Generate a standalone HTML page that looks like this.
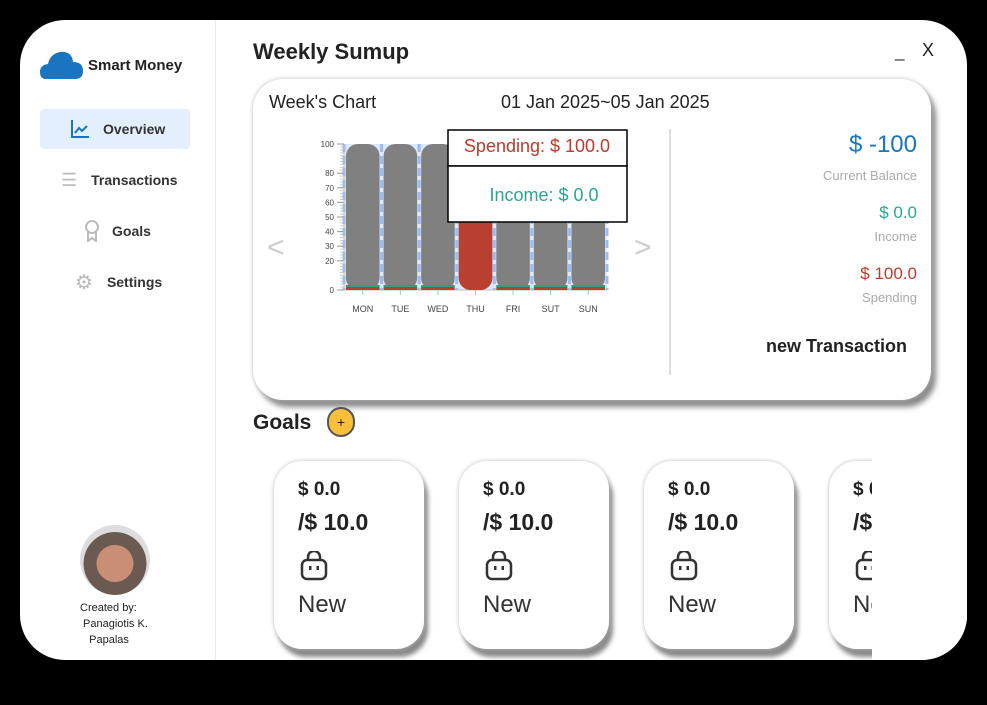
<!DOCTYPE html>
<html><head><meta charset="utf-8">
<style>
*{box-sizing:border-box;margin:0;padding:0}
body{width:987px;height:705px;background:#000;position:relative;overflow:hidden;font-family:"Liberation Sans",sans-serif;color:#222}
.win{position:absolute;left:20px;top:20px;width:947px;height:640px;background:#fff;border-radius:45px;overflow:hidden}
.abs{position:absolute}
.side{position:absolute;left:0;top:0;width:196px;height:640px;border-right:1px solid #e8e8e8}
.nav{position:absolute;left:20px;width:150px;height:40px;border-radius:4px;font-size:14px;font-weight:bold;color:#333;display:flex;align-items:center}
.card{position:absolute;background:#fff;border-radius:30px;box-shadow:0 0 4px #bbb,5px 7px 6px #888}
.goal{position:absolute;top:441px;width:150px;height:188px;background:#fff;border-radius:28px;box-shadow:0 0 4px #bbb,4px 8px 5px #888}
.goal .a{position:absolute;left:24px;top:18px;font-size:19px;font-weight:bold}
.goal .b{position:absolute;left:24px;top:48px;font-size:23px;font-weight:bold}
.goal .n{position:absolute;left:24px;top:130px;font-size:24px;color:#333}
.goal svg{position:absolute;left:26px;top:90px}
.r{position:absolute;right:14px;text-align:right}
</style></head><body>
<div class="win">
 <div class="side">
  <svg class="abs" style="left:20px;top:30px" width="44" height="30"><path d="M6 29 Q0 29 0 22 Q0 15 8 14 Q10 4 20 2 Q32 1 33 12 Q43 12 43 21 Q43 29 35 29 Z" fill="#1a74c0"/></svg>
  <div class="abs" style="left:68px;top:37px;font-size:15px;font-weight:bold">Smart Money</div>
  <div class="nav" style="top:89px;background:#e3effc"><svg style="margin-left:30px" width="20" height="20"><path d="M2 1V18H19" stroke="#1a74c0" stroke-width="2" fill="none"/><path d="M5 14L9 9L12 12L17 7" stroke="#1a74c0" stroke-width="2" fill="none"/></svg><span style="margin-left:13px">Overview</span></div>
  <div class="nav" style="top:140px"><span style="margin-left:21px;color:#bbb;font-size:18px;font-weight:normal">☰</span><span style="margin-left:14px">Transactions</span></div>
  <div class="nav" style="top:191px"><svg style="margin-left:44px" width="16" height="22"><circle cx="8" cy="7" r="6" stroke="#bbb" stroke-width="2" fill="none"/><path d="M4 12V21L8 18L12 21V12" stroke="#bbb" stroke-width="2" fill="none"/></svg><span style="margin-left:12px">Goals</span></div>
  <div class="nav" style="top:242px"><span style="margin-left:35px;color:#bbb;font-size:20px;font-weight:normal">⚙</span><span style="margin-left:14px">Settings</span></div>
  <div class="abs" style="left:60px;top:505px;width:70px;height:70px;border-radius:50%;background:radial-gradient(circle at 50% 55%,#c98f74 0 35%,#6a5a52 36% 60%,#ddd 61%)"></div>
  <div class="abs" style="left:60px;top:580px;font-size:11px;line-height:16px">Created by:<br>&nbsp;Panagiotis K.<br>&nbsp;&nbsp;&nbsp;Papalas</div>
 </div>
 <div class="abs" style="left:233px;top:19px;font-size:22px;font-weight:bold">Weekly Sumup</div>
 <div class="abs" style="left:875px;top:22px;font-size:17px">_</div>
 <div class="abs" style="left:902px;top:20px;font-size:18px">X</div>
 <div class="card" style="left:233px;top:59px;width:678px;height:321px">
  <div class="abs" style="left:16px;top:13px;font-size:18px">Week's Chart</div>
  <div class="abs" style="left:248px;top:13px;font-size:18px">01 Jan 2025~05 Jan 2025</div>
  <div class="abs" style="left:14px;top:152px;font-size:30px;color:#ccc">&lt;</div>
  <div class="abs" style="left:381px;top:152px;font-size:30px;color:#ccc">&gt;</div>
  <div class="abs" style="left:416px;top:50px;width:2px;height:246px;background:#ddd"></div>
  <div class="r" style="top:52px;font-size:24px;color:#1a74c0">$ -100</div>
  <div class="r" style="top:89px;font-size:13px;color:#aaa">Current Balance</div>
  <div class="r" style="top:124px;font-size:17px;color:#2aa592">$ 0.0</div>
  <div class="r" style="top:150px;font-size:13px;color:#aaa">Income</div>
  <div class="r" style="top:185px;font-size:17px;color:#c0392b">$ 100.0</div>
  <div class="r" style="top:211px;font-size:13px;color:#aaa">Spending</div>
  <div class="abs" style="right:24px;top:257px;font-size:18px;font-weight:bold">new Transaction</div>
 </div>
 <svg id="chart" class="abs" style="left:0;top:0" width="947" height="640"></svg>
 <div class="abs" style="left:233px;top:391px;font-size:21px;font-weight:bold">Goals</div>
 <div class="abs" style="left:307px;top:387px;width:28px;height:30px;border-radius:14px;background:#fbbf3c;border:2px solid #555;text-align:center;font-size:14px;line-height:26px">+</div>
 <div id="clip" class="abs" style="left:852px;top:430px;width:95px;height:210px;background:#fff;z-index:2"></div>
</div>
<script>
const days=["MON","TUE","WED","THU","FRI","SUT","SUN"];
const spending=[0,0,0,100,0,0,0];
const income=[0,0,0,0,0,0,0];
const yTicks=[0,20,30,40,50,60,70,80,100];
const NS="http://www.w3.org/2000/svg";
const svg=document.getElementById('chart');
const x0=324,x1=587,yb=270,yt=124;
const bw=(x1-x0)/days.length;
const y=v=>yb-(v/100)*(yb-yt);
const xc=i=>x0+bw*(i+0.5);
function mk(t,a){const e=document.createElementNS(NS,t);for(const k in a)e.setAttribute(k,a[k]);svg.appendChild(e);return e;}
let bg=mk('rect',{x:x0,y:yt,width:x1-x0,height:yb-yt,fill:'#dce8fb'});


for(let v=0;v<=100;v+=2){mk('line',{x1:x0-4,x2:x0,y1:y(v),y2:y(v),stroke:'#ccc'});}
days.forEach((d,i)=>{mk('line',{x1:xc(i)-bw/2,x2:xc(i)-bw/2,y1:yt,y2:yb,stroke:'#9bbcf2','stroke-width':3,'stroke-dasharray':'8 4'});});
mk('line',{x1:x1,x2:x1,y1:yt,y2:yb,stroke:'#9bbcf2','stroke-width':3,'stroke-dasharray':'8 4'});
yTicks.forEach(v=>{
 const t=mk('text',{x:x0-10,y:y(v)+3,'font-size':8,'text-anchor':'end',fill:'#444'});t.textContent=v;
 
 
 mk('line',{x1:x0-7,x2:x0,y1:y(v),y2:y(v),stroke:'#999'});
});
mk('line',{x1:x0,x2:x0,y1:yt,y2:yb,stroke:'#bbb'});
mk('line',{x1:x0,x2:x1,y1:yb,y2:yb,stroke:'#bbb'});
days.forEach((d,i)=>{
 const bx=xc(i)-bw/2+2,w=bw-4;
 const sp=mk('rect',{x:bx,y:yt,width:w,height:yb-yt,rx:12,fill:'#808080'});
 
 
 if(spending[i]>0){const r=mk('rect',{x:bx,y:y(spending[i]),width:w,height:yb-y(spending[i]),rx:12,fill:'#b94030'});
  
  }
 else{const g=mk('rect',{x:bx,y:yb-5,width:w,height:2,fill:'#3a9a80'});
  
  
  mk('rect',{x:bx,y:yb-3,width:w,height:3,fill:'#b94030'});}
 const t=mk('text',{x:xc(i),y:yb+22,'font-size':9,'text-anchor':'middle',fill:'#444'});t.textContent=d;
 
 
 mk('line',{x1:xc(i),x2:xc(i),y1:yb,y2:yb+5,stroke:'#bbb'});
});
const tip=mk('g',{});


[['rect',{x:428,y:110,width:179,height:36,fill:'#fff',stroke:'#000','stroke-width':1.5}],['rect',{x:428,y:146,width:179,height:56,fill:'#fff',stroke:'#000','stroke-width':1.5}]].forEach(([t,a])=>{const e=document.createElementNS(NS,t);for(const k in a)e.setAttribute(k,a[k]);tip.appendChild(e);});
const si=spending.indexOf(Math.max(...spending));
const t1=document.createElementNS(NS,'text');t1.setAttribute('x',517);t1.setAttribute('y',132);t1.setAttribute('text-anchor','middle');t1.setAttribute('font-size',18);t1.setAttribute('fill','#c0392b');t1.textContent='Spending: $ '+spending[si].toFixed(1);tip.appendChild(t1);
const t2=document.createElementNS(NS,'text');t2.setAttribute('x',524);t2.setAttribute('y',181);t2.setAttribute('text-anchor','middle');t2.setAttribute('font-size',18);t2.setAttribute('fill','#2aa592');t2.textContent='Income: $ '+income[si].toFixed(1);tip.appendChild(t2);
const win=document.querySelector('.win');
const clip=document.getElementById('clip');
[254,439,624,809].forEach((l,i)=>{
 const g=document.createElement('div');g.className='goal';g.style.left=l+'px';
 
 
 g.innerHTML='<div class="a">$ 0.0</div><div class="b">/$ 10.0</div><svg width="28" height="30"><path d="M8 9V6a6 6 0 0 1 12 0v3" stroke="#333" stroke-width="2.5" fill="none"/><rect x="2" y="9" width="24" height="19" rx="5" stroke="#333" stroke-width="2.5" fill="none"/><rect x="9" y="15" width="2.5" height="4" fill="#333"/><rect x="16.5" y="15" width="2.5" height="4" fill="#333"/></svg><div class="n">New</div>';
 win.insertBefore(g,clip);
});
</script>
</body></html>
